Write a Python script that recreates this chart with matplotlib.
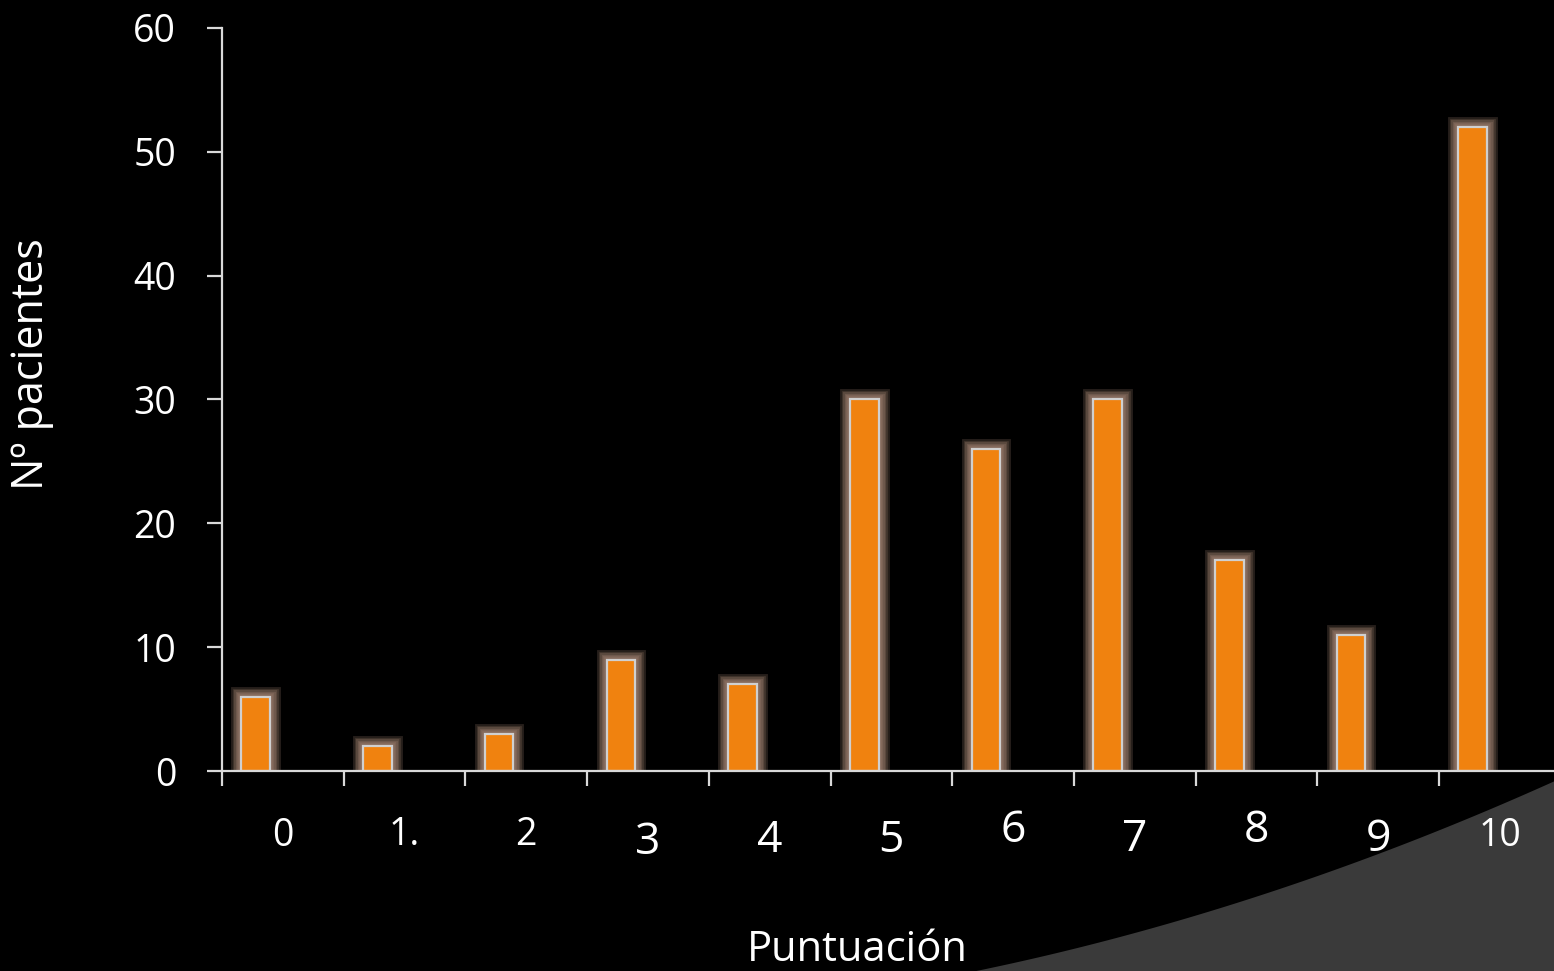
import matplotlib.pyplot as plt
import matplotlib.patheffects as pe
import numpy as np

plt.rcParams['font.family'] = ['Open Sans', 'DejaVu Sans']

# puntuación 0..10 -> número de pacientes
categorias = ['0', '1.', '2', '3', '4', '5', '6', '7', '8', '9', '10']
pacientes = [6, 2, 3, 9, 7, 30, 26, 30, 17, 11, 52]

# the category labels are not all set in the same size / baseline
label_size = [27, 27, 27, 32, 32, 32, 32, 32, 32, 32, 27]
label_y = [836, 835, 835, 843, 841, 841, 831, 840, 831, 840, 836]

W, H = 1554, 971
fig = plt.figure(figsize=(W / 100, H / 100), dpi=100)
fig.patch.set_facecolor('black')

# grey swoosh in the lower right corner
sx = np.array([980, 1240, 1380, 1554])
sy = np.array([971, 898, 858, 780])
coef = np.polyfit(sx, sy, 2)
cx = np.linspace(975, W, 200)
cy = np.polyval(coef, cx)
poly_x = np.concatenate([cx, [W, 975]]) / W
poly_y = 1 - np.concatenate([cy, [H, H]]) / H
fig.patches.append(plt.Polygon(np.column_stack([poly_x, poly_y]), closed=True,
                               transform=fig.transFigure, facecolor='#3a3a3a',
                               edgecolor='none', zorder=0))

left, right = 222, W
bottom, top = 771, 28
ax = fig.add_axes([left / W, 1 - bottom / H, (right - left) / W, (bottom - top) / H])
ax.set_facecolor('none')

slot = 121.7
ax.set_xlim(0, (right - left) / slot)
ax.set_ylim(0, 60)

# soft brownish halo around each bar
glow = [pe.Stroke(linewidth=w, foreground='#b08e7b', alpha=0.22)
        for w in (15, 12, 10, 8, 6, 4)]
glow.append(pe.Normal())

x = np.arange(len(categorias))
bars = ax.bar(x + 0.16, pacientes, width=0.235, align='edge', color='#f0820f',
              edgecolor='#d0d0d0', linewidth=1.6, zorder=2)
for b in bars:
    b.set_path_effects(glow)

axis_col = '#d9d9d9'
for s in ['top', 'right']:
    ax.spines[s].set_visible(False)
for s in ['left', 'bottom']:
    ax.spines[s].set_color(axis_col)
    ax.spines[s].set_linewidth(1.6)
    ax.spines[s].set_zorder(3)

ax.set_yticks(np.arange(0, 61, 10))
ax.tick_params(axis='y', colors='white', labelsize=27, length=11, width=1.6,
               color=axis_col, pad=22)
ax.set_xticks(np.arange(0, 11))
ax.set_xticklabels([])
ax.tick_params(axis='x', length=11, width=1.6, color=axis_col)

for i, lab in enumerate(categorias):
    px = left + (i + 0.5) * slot
    fig.text(px / W, 1 - label_y[i] / H, lab, color='white', fontsize=label_size[i],
             ha='center', va='center')

fig.text(857 / W, 1 - 950 / H, 'Puntuación', color='white', fontsize=30,
         ha='center', va='center')
fig.text(32 / W, 1 - 364 / H, 'Nº pacientes', color='white', fontsize=31,
         ha='center', va='center', rotation=90)

fig.savefig('out.png', dpi=100, facecolor=fig.get_facecolor())
